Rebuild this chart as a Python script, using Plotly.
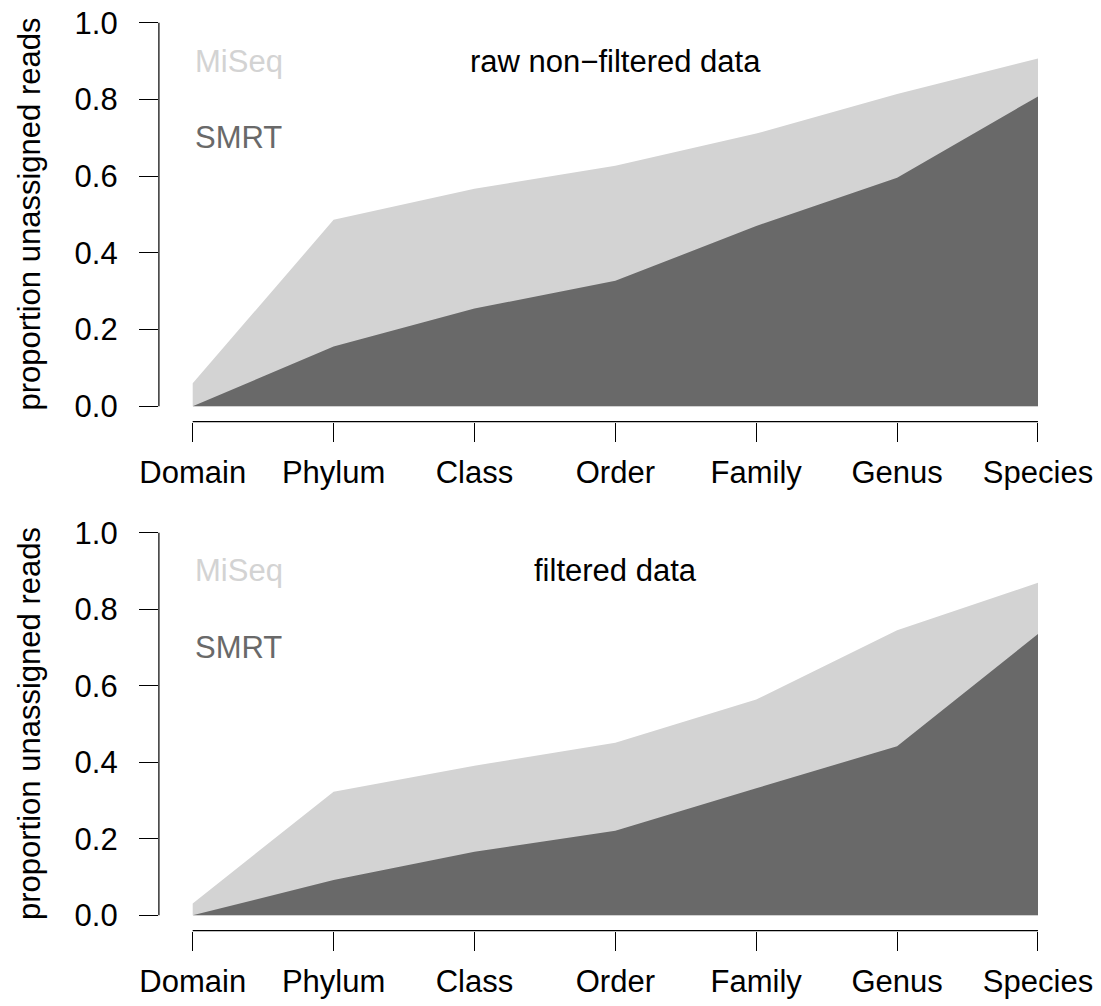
import plotly.graph_objects as go

# Taxonomic ranks on the x axis
ranks = ["Domain", "Phylum", "Class", "Order", "Family", "Genus", "Species"]

# Proportion of unassigned reads, raw non-filtered data
raw_miseq = [0.060, 0.486, 0.567, 0.627, 0.711, 0.814, 0.907]
raw_smrt = [0.000, 0.156, 0.255, 0.327, 0.470, 0.596, 0.808]

# Proportion of unassigned reads, filtered data
filt_miseq = [0.031, 0.323, 0.391, 0.451, 0.564, 0.745, 0.869]
filt_smrt = [0.000, 0.092, 0.166, 0.221, 0.332, 0.442, 0.735]

y_ticks = [0.0, 0.2, 0.4, 0.6, 0.8, 1.0]

panel_titles = ["raw non\u2212filtered data", "filtered data"]
series_names = ["MiSeq", "SMRT"]

W, H = 1101, 1006
FONT = "Liberation Sans, Arial, Helvetica, sans-serif"
FS = 31
LIGHT = "#D3D3D3"
DARK = "#696969"

xpos = list(range(1, len(ranks) + 1))
pad_x = 0.04 * (xpos[-1] - xpos[0])
pad_y = 0.04

# panel plot regions in pixels: (left, right, top, bottom)
regions = [(158.9, 1071.8, 7.4, 421.6), (158.9, 1071.8, 517.4, 930.6)]

fig = go.Figure()
panels = [(raw_miseq, raw_smrt), (filt_miseq, filt_smrt)]

for i, ((miseq, smrt), title, reg) in enumerate(zip(panels, panel_titles, regions)):
    sfx = "" if i == 0 else str(i + 1)
    xa, ya = "x" + sfx, "y" + sfx
    fig.add_trace(go.Scatter(x=xpos, y=miseq, mode="lines", fill="tozeroy",
                             fillcolor=LIGHT, line=dict(width=0, color=LIGHT),
                             xaxis=xa, yaxis=ya, showlegend=False,
                             name=series_names[0]))
    fig.add_trace(go.Scatter(x=xpos, y=smrt, mode="lines", fill="tozeroy",
                             fillcolor=DARK, line=dict(width=0, color=DARK),
                             xaxis=xa, yaxis=ya, showlegend=False,
                             name=series_names[1]))

    l, r, t, b = reg
    xdom = [l / W, r / W]
    ydom = [1 - b / H, 1 - t / H]
    axis_font = dict(family=FONT, size=FS, color="black")
    fig.update_layout(**{
        "xaxis" + sfx: dict(domain=xdom, range=[xpos[0] - pad_x, xpos[-1] + pad_x],
                            tickvals=xpos, ticktext=ranks, ticks="outside",
                            ticklen=19, tickwidth=1.2, tickcolor="black",
                            showgrid=False, zeroline=False, showline=False,
                            tickfont=axis_font, ticklabelstandoff=4,
                            anchor=ya, automargin=False, fixedrange=True),
        "yaxis" + sfx: dict(domain=ydom, range=[-pad_y, 1 + pad_y],
                            tickvals=y_ticks, tickformat=".1f", ticks="outside",
                            ticklen=19, tickwidth=1.2, tickcolor="black",
                            showgrid=False, zeroline=False, showline=False,
                            tickfont=axis_font, ticklabelstandoff=15,
                            anchor=xa, automargin=False, fixedrange=True),
    })

    # axis lines spanning only the first to last tick
    fig.add_shape(type="line", xref=xa, yref=ya + " domain",
                  x0=xpos[0], x1=xpos[-1], y0=0, y1=0,
                  line=dict(color="black", width=1.2))
    fig.add_shape(type="line", xref=xa + " domain", yref=ya,
                  x0=0, x1=0, y0=y_ticks[0], y1=y_ticks[-1],
                  line=dict(color="black", width=1.2))

    # panel labels
    fig.add_annotation(x=xpos[0], y=0.9, xref=xa, yref=ya, text=series_names[0],
                       showarrow=False, xanchor="left", yanchor="middle",
                       font=dict(family=FONT, size=FS, color=LIGHT))
    fig.add_annotation(x=xpos[0], y=0.7, xref=xa, yref=ya, text=series_names[1],
                       showarrow=False, xanchor="left", yanchor="middle",
                       font=dict(family=FONT, size=FS, color=DARK))
    fig.add_annotation(x=xpos[len(xpos) // 2], y=0.9, xref=xa, yref=ya, text=title,
                       showarrow=False, xanchor="center", yanchor="middle",
                       font=dict(family=FONT, size=FS, color="black"))

    # y axis title
    fig.add_annotation(x=29 / W, y=1 - (t + b) / 2 / H, xref="paper", yref="paper",
                       text="proportion unassigned reads", textangle=-90,
                       showarrow=False, xanchor="center", yanchor="middle",
                       font=dict(family=FONT, size=FS, color="black"))

fig.update_layout(template="none", width=W, height=H,
                  margin=dict(l=0, r=0, t=0, b=0, autoexpand=False),
                  paper_bgcolor="white", plot_bgcolor="white",
                  font=dict(family=FONT, size=FS, color="black"))

fig.write_html("out.html")
